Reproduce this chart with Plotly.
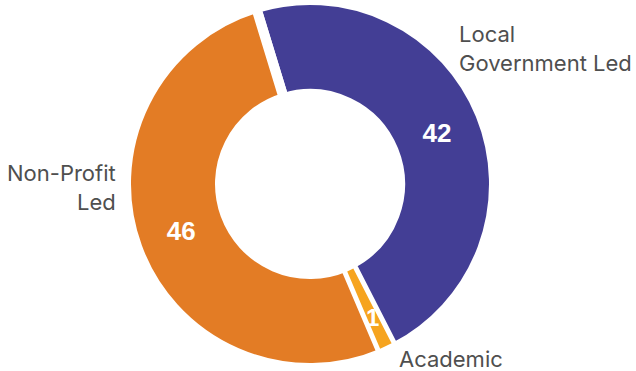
import math
import plotly.graph_objects as go

# Data (listed in counter-clockwise drawing order so the tiny slice is drawn last)
labels = ["Local Government Led", "Non-Profit Led", "Academic"]
values = [42, 46, 1]
colors = ["#433E95", "#E37C25", "#F6A41F"]

W, H = 636, 371
CX, CY = 310, 184          # donut centre (px from top-left)
R_OUT, R_IN = 179, 95      # visible outer / inner radius (px)
GAP = 10                   # white separator width (px)
ROT = -17                  # clockwise start of first slice (deg from 12 o'clock)


def dom(r):
    cy_b = H - CY
    return dict(x=[(CX - r) / W, (CX + r) / W], y=[(cy_b - r) / H, (cy_b + r) / H])


fig = go.Figure()

# Main trace: large slices with white separators
r1 = R_OUT + GAP / 2
main_colors = [colors[0], colors[1], "rgba(0,0,0,0)"]
fig.add_trace(go.Pie(
    labels=labels, values=values, sort=False, direction="counterclockwise",
    rotation=ROT, hole=(R_IN - GAP / 2) / r1,
    marker=dict(colors=main_colors, line=dict(color="white", width=[GAP, GAP, 0])),
    texttemplate=["%{value}", "%{value}", ""],
    textposition="inside", insidetextorientation="horizontal",
    textfont=dict(family="Liberation Sans", size=26, color="white", weight="bold"),
    showlegend=False, domain=dom(r1), hoverinfo="label+value",
))

# Overlay (drawn on top): the smallest slice without separators so it keeps
# its full angular width; the others are transparent.
overlay_colors = ["rgba(0,0,0,0)", "rgba(0,0,0,0)", colors[2]]
fig.add_trace(go.Pie(
    labels=labels, values=values, sort=False, direction="counterclockwise",
    rotation=ROT, hole=R_IN / R_OUT,
    marker=dict(colors=overlay_colors, line=dict(width=0)),
    textinfo="none", showlegend=False, domain=dom(R_OUT), hoverinfo="label+value",
))

# value label for the smallest slice, placed at its mid-angle
total = sum(values)
mid = math.radians(ROT - 360 * values[1] / total - 180 * values[2] / total)
r_lab = 147
lx = CX + r_lab * math.sin(mid)
ly = CY - r_lab * math.cos(mid)
fig.add_annotation(x=lx / W, y=1 - ly / H, xref="paper", yref="paper",
                   text=str(values[2]), showarrow=False,
                   xanchor="center", yanchor="middle",
                   font=dict(family="Liberation Sans", size=24, color="white", weight="bold"))

label_font = dict(family="Inter", size=22, color="#4F4F4F")
fig.add_annotation(x=457 / W, y=1 - 49 / H, xref="paper", yref="paper",
                   text="Local<br>Government Led", showarrow=False,
                   xanchor="left", yanchor="middle", align="left", font=label_font)
fig.add_annotation(x=118 / W, y=1 - 187 / H, xref="paper", yref="paper",
                   text="Non-Profit<br>Led", showarrow=False,
                   xanchor="right", yanchor="middle", align="right", font=label_font)
fig.add_annotation(x=397 / W, y=1 - 359 / H, xref="paper", yref="paper",
                   text="Academic", showarrow=False,
                   xanchor="left", yanchor="middle", align="left", font=label_font)

fig.update_layout(
    width=W, height=H,
    margin=dict(l=0, r=0, t=0, b=0),
    paper_bgcolor="white", plot_bgcolor="white",
)
fig.write_html("out.html")
